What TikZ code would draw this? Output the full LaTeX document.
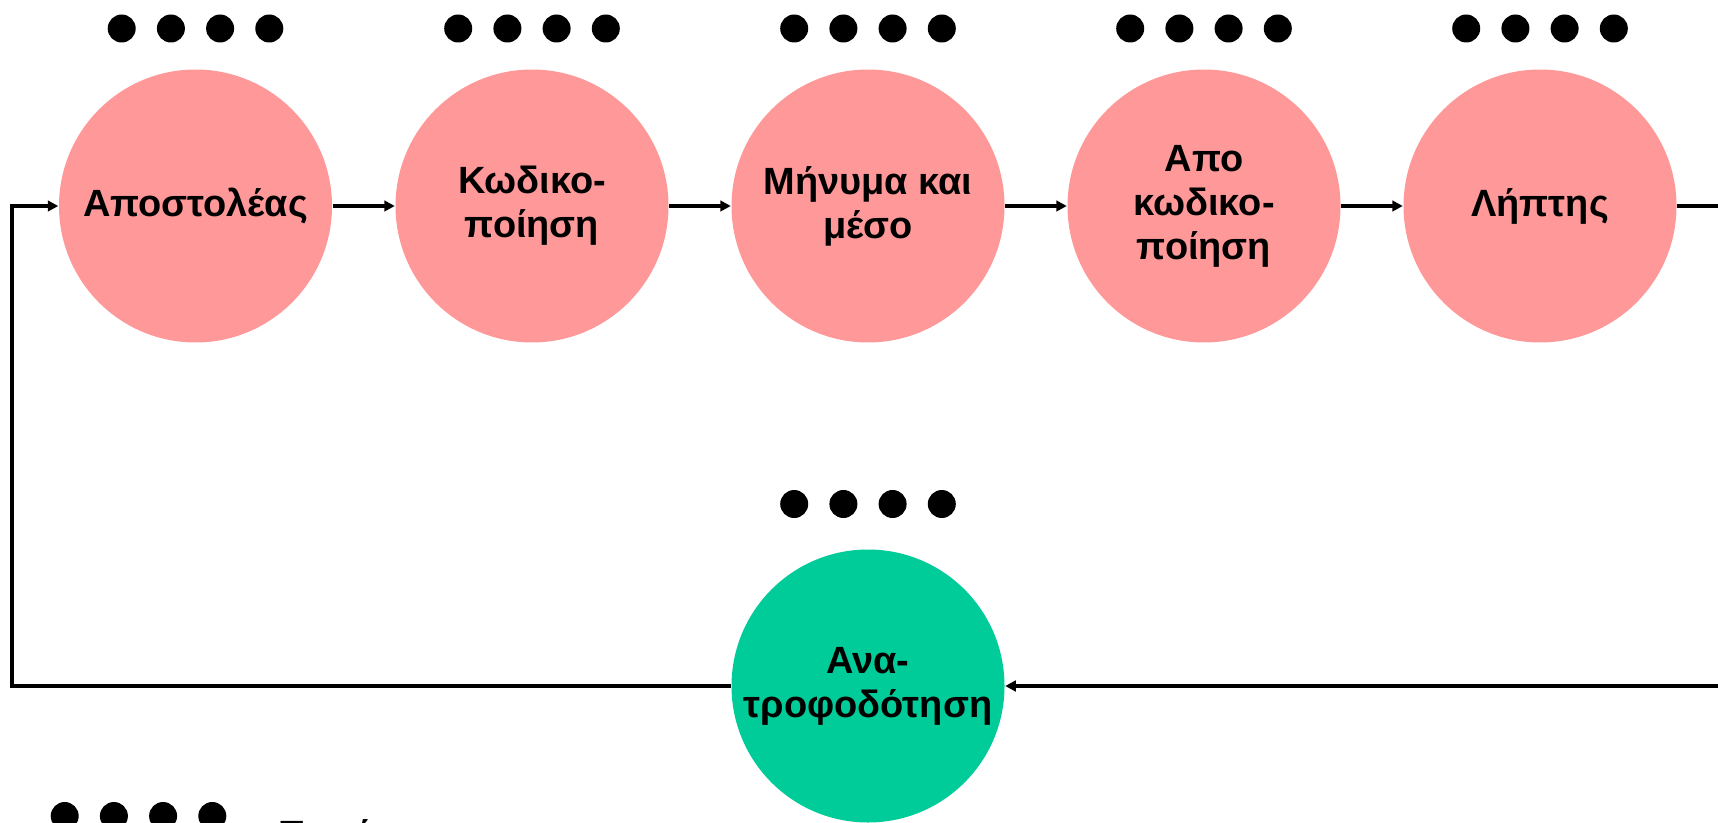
\documentclass[tikz,border=0pt]{standalone}
\usepackage{fontspec}
\setmainfont{Liberation Sans}
\usetikzlibrary{arrows.meta}
\usetikzlibrary{calc}
\tikzset{>={Triangle[length=3pt,width=3pt]}}
\definecolor{stagepink}{RGB}{255,153,153}
\definecolor{fbgreen}{RGB}{0,204,153}
\tikzset{
  stage/.style={circle, fill=stagepink, minimum size=2.73cm, inner sep=0pt, align=center,
    font=\fontsize{10.8}{12.5}\selectfont\bfseries},
  link/.style={line width=0.95pt, ->}
}

\begin{document}
\begin{tikzpicture}

\useasboundingbox (0,0) rectangle (17.18,8.22);
\clip (0,0) rectangle (17.18,8.22);

\node[stage] (snd) at (1.955, 6.16) {Αποστολέας};
\node[stage] (enc) at (5.32, 6.16) {Κωδικο-\\ποίηση};
\node[stage] (msg) at (8.68, 6.16) {Μήνυμα και\\μέσο};
\node[stage] (dec) at (12.04, 6.16) {Απο\\κωδικο-\\ποίηση};
\node[stage] (rcv) at (15.40, 6.16) {Λήπτης};
\node[stage, fill=fbgreen] (fb) at (8.68, 1.36) {Ανα-\\τροφοδότηση};

% dots above the stages
\fill (1.217,7.935) circle (0.14) (1.709,7.935) circle (0.14) (2.201,7.935) circle (0.14) (2.693,7.935) circle (0.14);
\fill (4.582,7.935) circle (0.14) (5.074,7.935) circle (0.14) (5.566,7.935) circle (0.14) (6.058,7.935) circle (0.14);
\fill (7.942,7.935) circle (0.14) (8.434,7.935) circle (0.14) (8.926,7.935) circle (0.14) (9.418,7.935) circle (0.14);
\fill (11.302,7.935) circle (0.14) (11.794,7.935) circle (0.14) (12.286,7.935) circle (0.14) (12.778,7.935) circle (0.14);
\fill (14.662,7.935) circle (0.14) (15.154,7.935) circle (0.14) (15.646,7.935) circle (0.14) (16.138,7.935) circle (0.14);
\fill (7.942,3.18) circle (0.14) (8.434,3.18) circle (0.14) (8.926,3.18) circle (0.14) (9.418,3.18) circle (0.14);

% legend
\fill (0.647,0.06) circle (0.14) (1.139,0.06) circle (0.14) (1.631,0.06) circle (0.14) (2.123,0.06) circle (0.14);
\node[anchor=base west, inner sep=0pt, font=\fontsize{10.8}{12.5}\selectfont\bfseries] (leg) at (2.78,-0.25) {Παράσιτα};

\draw[link] (snd) -- (enc);
\draw[link] (enc) -- (msg);
\draw[link] (msg) -- (dec);
\draw[link] (dec) -- (rcv);

\coordinate (rturn) at (17.6, 1.36);
\coordinate (lturn) at (0.12, 1.36);
\draw[link] (rcv.east) -| (rturn) -- (fb.east);
\draw[link] (fb.west) -- (lturn) |- (snd.west);

\end{tikzpicture}
\end{document}
